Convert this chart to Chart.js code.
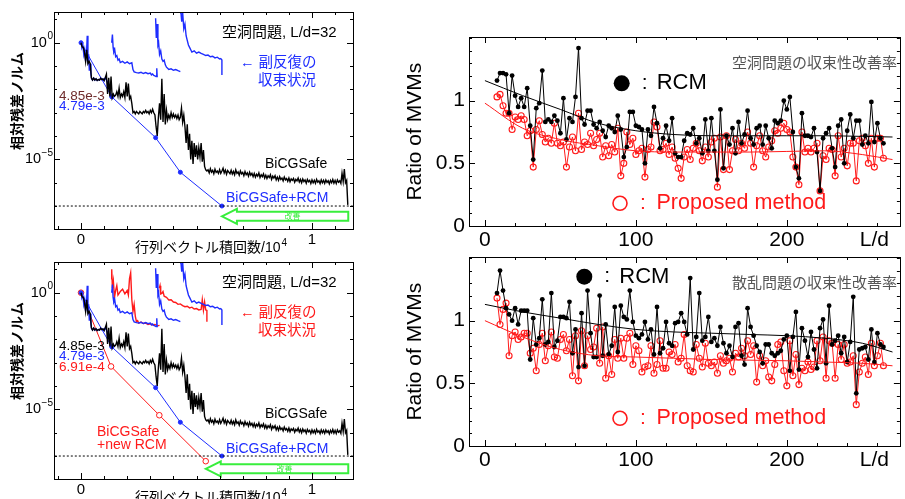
<!DOCTYPE html>
<html>
<head>
<meta charset="utf-8">
<script src="https://cdn.jsdelivr.net/npm/chart.js@4.4.1/dist/chart.umd.min.js"></script>
<style>
  html, body { margin: 0; padding: 0; background: #fff; }
  #wrap { position: relative; width: 905px; height: 499px; overflow: hidden; }
  #wrap canvas { position: absolute; left: 0; top: 0; }
</style>
</head>
<body>
<div id="wrap">
  <canvas id="histTop" width="905" height="499"></canvas>
  <canvas id="histBottom" width="905" height="499"></canvas>
  <canvas id="ratioTop" width="905" height="499"></canvas>
  <canvas id="ratioBottom" width="905" height="499"></canvas>
</div>
<script>
// ---------- convergence history (x: MVMs / 10^4, y: log10 of relative residual) ----------
const safeStep = 0.005;
const safeLog = [
  0, -0.18, -0.2, -0.4, -0.8, -0.3, -0.9, -0.8, -0.9, -1.5,
  -1.6, -1.52, -1.6, -1.55, -1.62, -1.58, -1.6, -1.52, -1.58, -1.55,
  -1.62, -1.5, -1.35, -2.2, -1.5, -2.3, -1.45, -2.35, -2.2, -2.3,
  -2.25, -2.1, -2.3, -1.95, -2.35, -2.2, -2.3, -2.1, -2.35, -1.7,
  -2.3, -1.75, -2.4, -2.3, -2.6, -3.0, -2.95, -3.05, -2.95, -3.0,
  -3.05, -2.95, -3.0, -3.05, -2.95, -3.0, -2.9, -3.0, -2.95, -3.05,
  -2.9, -3.0, -2.85, -3.0, -3.1, -3.6, -4.0, -3.2, -2.6, -3.3,
  -1.55, -3.4, -2.2, -3.5, -2.9, -3.3, -3.1, -3.25, -3.0, -3.2,
  -3.05, -3.2, -3.1, -3.25, -3.1, -3.3, -3.2, -2.8, -3.4, -3.1,
  -3.6, -4.3, -3.5, -4.6, -3.9, -5.0, -4.2, -5.2, -4.3, -4.9,
  -4.4, -5.0, -4.5, -4.9, -4.3, -5.1, -4.6, -5.3, -5.45, -5.5,
  -5.45, -5.58, -5.4, -5.55, -5.47, -5.62, -5.42, -5.56, -5.5, -5.6,
  -5.44, -5.6, -5.5, -5.38, -5.58, -5.46, -5.64, -5.48, -5.55, -5.62,
  -5.47, -5.63, -5.52, -5.66, -5.45, -5.6, -5.54, -5.68, -5.5, -5.62,
  -5.56, -5.7, -5.52, -5.66, -5.58, -5.72, -5.55, -5.68, -5.6, -5.74,
  -5.6, -5.76, -5.64, -5.72, -5.58, -5.78, -5.66, -5.74, -5.62, -5.8,
  -5.68, -5.82, -5.7, -5.78, -5.66, -5.86, -5.72, -5.8, -5.7, -5.88,
  -5.76, -5.9, -5.74, -5.86, -5.8, -5.92, -5.76, -5.88, -5.82, -5.94,
  -5.8, -5.96, -5.84, -5.9, -5.82, -5.98, -5.86, -5.92, -5.8, -5.97,
  -5.86, -6.0, -5.84, -5.95, -5.88, -6.02, -5.86, -5.96, -5.9, -6.04,
  -5.88, -6.0, -5.9, -6.03, -5.86, -5.98, -5.92, -6.04, -5.88, -6.0,
  -5.9, -6.03, -5.88, -5.99, -5.92, -6.05, -5.9, -6.0, -5.86, -6.02,
  -5.9, -6.04, -5.88, -5.98, -5.92, -6.03, -5.6, -5.95, -5.42, -6.0,
  -5.9, -6.95
];

// inner iterations of the restarted solver (each restart begins at 1)
const blueSub1X = [0, .004, .008, .012, .016, .02, .024, .027, .03, .033, .036, .04, .043, .046, .05, .055, .06, .065, .07, .075, .08, .085, .09, .095, .1, .105, .11, .115, .12, .125, .13, .133];
const blueSub1Log = [0, -0.2, -0.1, -0.5, -0.3, -0.8, -0.4, 0.3, -0.9, -0.5, -1.2, -0.9, -1.35, -1.55, -1.6, -1.52, -1.6, -1.55, -1.62, -1.58, -1.6, -1.52, -1.58, -1.55, -1.62, -1.5, -1.6, -1.7, -1.9, -2.1, -2.25, -2.32];
const blueSub2X = [.133, .136, .139, .142, .146, .15, .155, .16, .165, .17, .18, .19, .2, .21, .22, .225, .23, .24, .25, .26, .27, .28, .29, .3, .305, .31, .315, .32, .325, .328, .33];
const blueSub2Log = [0, 0.35, -0.2, -0.4, -0.3, -0.6, -0.55, -0.75, -0.7, -0.85, -0.8, -0.88, -0.82, -0.9, -0.86, -1.15, -1.25, -1.28, -1.3, -1.27, -1.32, -1.28, -1.33, -1.3, -1.38, -1.34, -1.4, -1.42, -1.45, -1.1, -1.48];
const blueSub3X = [.323, .326, .33, .333, .336, .34, .345, .35, .355, .36, .365, .37, .375, .38, .39, .4, .41, .42, .425, .43];
const blueSub3Log = [1.05, 0.2, 0.8, -0.1, 0.0, -0.5, -0.35, -0.7, -0.8, -0.75, -0.95, -1.05, -1.1, -1.15, -1.12, -1.18, -1.15, -1.2, -1.22, -1.24];
const blueSub4X = [.43, .433, .436, .44, .445, .45, .455, .46, .465, .47, .475, .48, .49, .5, .51, .52, .53, .54, .55, .56, .57, .58, .59, .6, .605, .61, .61];
const blueSub4Log = [1.3, 1.25, 0.9, 1.3, 0.6, 0.8, 0.3, 0.1, -0.1, -0.2, -0.3, -0.4, -0.35, -0.45, -0.4, -0.46, -0.5, -0.55, -0.53, -0.6, -0.58, -0.65, -0.62, -0.7, -0.68, -0.74, -1.38];
const redSub1X = [.13, .133, .136, .14, .145, .15, .155, .16, .17, .18, .19, .2, .205, .21, .215, .22, .225, .23, .235, .24, .245, .25, .26, .27, .28, .29, .3, .31, .32, .33, .34];
const redSub1Log = [0.6, 1.0, 0.2, 0.5, -0.2, 0.1, 0.3, -0.1, 0.05, 0.15, -0.05, 0.1, -0.1, 0.6, 0.85, -0.3, -0.8, -0.5, -1.0, -1.24, -1.2, -1.3, -1.26, -1.32, -1.3, -1.36, -1.33, -1.38, -1.36, -1.42, -1.4];
const redSub2X = [.339, .342, .345, .35, .355, .36, .37, .38, .39, .4, .41, .42, .43, .44, .45, .46, .47, .48, .49, .5, .51, .52, .525, .53, .535, .54, .545, .545];
const redSub2Log = [0.19, 0.3, -0.05, -0.03, 0.05, -0.15, -0.2, -0.31, -0.3, -0.4, -0.42, -0.5, -0.48, -0.55, -0.6, -0.58, -0.65, -0.62, -0.7, -0.68, -0.74, -0.72, -0.3, -0.75, -0.4, -0.74, -0.76, -1.24];

// residual at each restart
const rcmX = [0, 0.133, 0.323, 0.43, 0.61];
const rcmRes = [1, 4.79e-3, 8.5e-5, 2.8e-6, 1e-7];
const newRcmX = [0, 0.13, 0.339, 0.54];
const newRcmRes = [1, 6.91e-4, 5.6e-6, 6e-8];
const tolRes = 1e-7;

const histXTicks = [-0.1, 0, 0.1, 0.2, 0.3, 0.4, 0.5, 0.6, 0.7, 0.8, 0.9, 1, 1.1];
const histXMajor = [0, 1];
const histYTicks = [10, 1, 1e-1, 1e-2, 1e-3, 1e-4, 1e-5, 1e-6, 1e-7, 1e-8];
const histYMajor = [1, 1e-5];

// ---------- MVM ratio against L/d ----------
const ldValues = Array.from({ length: 129 }, (_, i) => 8 + 2 * i);
const rcmCavity = [
  1.16, 1.22, 1.22, 1.21, 0.90, 1.20, 1.04, 0.95, 1.02, 0.95,
  1.10, 0.80, 0.53, 0.94, 0.98, 1.24, 0.83, 0.85, 0.83, 0.88,
  0.84, 0.74, 1.02, 0.69, 0.86, 0.83, 1.03, 1.42, 0.86, 0.81,
  0.92, 0.92, 0.81, 0.78, 0.83, 0.76, 0.71, 0.80, 0.78, 0.75,
  0.88, 0.77, 0.55, 0.63, 0.91, 0.91, 0.80, 0.79, 0.77, 0.50,
  0.77, 0.72, 0.95, 0.82, 0.62, 0.70, 0.80, 0.68, 0.86, 0.58,
  0.55, 0.55, 0.68, 0.74, 0.73, 0.78, 0.66, 0.70, 0.58, 0.85,
  0.60, 0.86, 0.60, 0.37, 0.93, 0.46, 0.72, 0.65, 0.78, 0.58,
  0.83, 0.66, 0.73, 0.92, 0.70, 0.65, 0.78, 0.80, 0.65, 0.80,
  0.70, 0.62, 0.84, 0.82, 0.84, 1.00, 0.93, 1.03, 0.75, 0.47,
  0.38, 0.90, 0.72, 0.72, 0.71, 0.78, 0.59, 0.28, 0.70, 0.74,
  0.78, 0.62, 0.47, 0.80, 0.85, 0.50, 0.76, 0.89, 0.70, 0.84,
  0.84, 0.65, 0.72, 0.66, 0.99, 0.67, 0.82, 0.70, 0.66
];
const newCavity = [
  1.03, 1.05, 0.96, 0.90, 0.90, 0.77, 0.87, 0.85, 0.88, 0.85,
  0.72, 0.76, 0.47, 0.77, 0.84, 0.73, 0.67, 0.70, 0.66, 0.82,
  0.66, 0.64, 0.67, 0.47, 0.63, 0.71, 0.60, 0.90, 0.61, 0.67,
  0.65, 0.74, 0.64, 0.69, 0.74, 0.55, 0.64, 0.56, 0.65, 0.59,
  0.78, 0.40, 0.50, 0.75, 0.65, 0.70, 0.57, 0.60, 0.62, 0.39,
  0.61, 0.63, 0.83, 0.79, 0.60, 0.61, 0.66, 0.57, 0.63, 0.54,
  0.46, 0.38, 0.55, 0.61, 0.53, 0.62, 0.66, 0.60, 0.52, 0.63,
  0.55, 0.67, 0.70, 0.31, 0.71, 0.45, 0.72, 0.45, 0.60, 0.69,
  0.60, 0.66, 0.62, 0.75, 0.66, 0.47, 0.64, 0.72, 0.60, 0.55,
  0.63, 0.68, 0.76, 0.74, 0.78, 0.82, 0.77, 0.75, 0.55, 0.47,
  0.33, 0.75, 0.59, 0.62, 0.59, 0.62, 0.66, 0.28, 0.56, 0.53,
  0.62, 0.61, 0.40, 0.72, 0.55, 0.62, 0.48, 0.66, 0.66, 0.36,
  0.68, 0.70, 0.64, 0.50, 0.70, 0.47, 0.70, 0.70, 0.54
];
const rcmScatter = [
  1.22, 1.40, 1.24, 1.10, 1.05, 1.00, 1.10, 0.97, 1.08, 1.08,
  1.08, 0.69, 1.02, 0.81, 0.86, 1.17, 0.81, 0.83, 1.22, 0.79,
  0.84, 1.03, 1.03, 1.02, 1.15, 0.74, 0.93, 0.63, 1.06, 0.64,
  1.24, 0.90, 0.71, 0.71, 1.20, 0.72, 0.97, 0.73, 0.80, 1.11,
  0.75, 1.12, 1.03, 1.01, 1.24, 0.99, 0.88, 0.86, 0.89, 0.99,
  0.85, 0.93, 0.73, 1.11, 0.74, 0.78, 0.99, 0.82, 0.80, 0.98,
  0.99, 1.06, 0.99, 0.89, 1.34, 0.77, 0.87, 1.22, 0.84, 0.87,
  1.03, 0.83, 0.86, 0.80, 0.95, 0.82, 0.74, 0.80, 0.71, 0.95,
  0.98, 0.72, 0.65, 1.10, 0.95, 0.88, 0.80, 0.75, 0.66, 0.81,
  0.81, 0.74, 0.72, 0.74, 0.76, 0.85, 0.88, 0.60, 0.87, 1.07,
  0.61, 0.94, 0.84, 0.71, 0.91, 0.77, 0.62, 0.94, 1.01, 0.66,
  1.12, 0.81, 0.84, 0.88, 0.74, 0.87, 0.67, 0.83, 1.19, 0.42,
  0.77, 0.78, 0.79, 0.69, 0.93, 0.67, 0.90, 0.81, 0.79
];
const newScatter = [
  1.18, 0.97, 1.09, 1.14, 0.72, 0.88, 0.91, 0.85, 0.87, 0.90,
  0.90, 0.74, 0.78, 0.60, 0.81, 0.90, 0.68, 0.80, 0.91, 0.71,
  0.70, 0.85, 0.89, 0.76, 0.85, 0.56, 0.88, 0.52, 0.92, 0.64,
  0.88, 0.77, 0.79, 0.94, 0.66, 0.95, 0.54, 0.72, 0.57, 0.85,
  0.70, 0.86, 0.70, 0.86, 0.90, 0.65, 0.80, 0.76, 0.59, 0.63,
  0.64, 0.80, 0.58, 0.65, 0.84, 0.62, 0.62, 0.75, 0.73, 0.81,
  0.67, 0.70, 0.89, 0.64, 0.60, 0.59, 0.81, 0.70, 0.63, 0.82,
  0.66, 0.64, 0.67, 0.58, 0.72, 0.66, 0.68, 0.70, 0.59, 0.74,
  0.71, 0.78, 0.72, 0.84, 0.73, 0.80, 0.51, 0.72, 0.64, 0.68,
  0.55, 0.52, 0.65, 0.81, 0.83, 0.60, 0.48, 0.84, 0.56, 0.73,
  0.49, 0.62, 0.60, 0.67, 0.61, 0.63, 0.84, 0.68, 0.87, 0.54,
  0.84, 0.82, 0.54, 0.81, 0.69, 0.81, 0.66, 0.67, 0.72, 0.33,
  0.59, 0.66, 0.71, 0.57, 0.82, 0.64, 0.72, 0.82, 0.64
];
// fitted trends
const trendLd = [0, 25, 50, 75, 100, 125, 150, 175, 200, 225, 250, 270];
const trendRcmCavity = [1.16, 1.04, 0.93, 0.82, 0.76, 0.73, 0.72, 0.72, 0.72, 0.72, 0.715, 0.71];
const trendNewCavity = [0.98, 0.78, 0.69, 0.64, 0.60, 0.59, 0.59, 0.59, 0.595, 0.60, 0.57, 0.53];
const trendRcmScatter = [1.13, 1.07, 1.02, 0.97, 0.93, 0.91, 0.90, 0.89, 0.88, 0.86, 0.82, 0.75];
const trendNewScatter = [1.0, 0.87, 0.77, 0.72, 0.71, 0.70, 0.69, 0.685, 0.68, 0.67, 0.66, 0.64];

const ratioXTicks = [0, 20, 40, 60, 80, 100, 120, 140, 160, 180, 200, 220, 240, 260];
const ratioXMajor = [0, 100, 200];
const ratioYTicks = [0, 0.1, 0.2, 0.3, 0.4, 0.5, 0.6, 0.7, 0.8, 0.9, 1, 1.1, 1.2, 1.3, 1.4, 1.5];
const ratioYMajor = [0, 0.5, 1];

const LAT = '"Liberation Sans", "Noto Sans CJK JP", sans-serif';
const CJK = '"Noto Sans CJK JP", "Liberation Sans", sans-serif';
const BLUE = '#1e2dff';
const RED = '#ff1a1a';
const GREEN = '#38ee3c';

// frame, inward ticks, tick labels, notes
const inkPlugin = {
  id: 'ink',
  afterDraw(chart, _args, o) {
    const { ctx, chartArea: a, scales: { x, y } } = chart;
    ctx.save();
    ctx.strokeStyle = '#000';
    ctx.lineWidth = 1;
    if (o.arrow) drawArrow(ctx, x, y, o.arrow);
    ctx.strokeStyle = '#000';
    ctx.lineWidth = 1;
    ctx.strokeRect(Math.round(a.left) + 0.5, Math.round(a.top) + 0.5,
      Math.round(a.right - a.left), Math.round(a.bottom - a.top));
    ctx.beginPath();
    o.xTicks.forEach(v => {
      const px = Math.round(x.getPixelForValue(v)) + 0.5;
      const len = o.xMajor.includes(v) ? 6 : 3;
      ctx.moveTo(px, a.bottom); ctx.lineTo(px, a.bottom - len);
      ctx.moveTo(px, a.top); ctx.lineTo(px, a.top + len);
    });
    o.yTicks.forEach(v => {
      const py = Math.round(y.getPixelForValue(v)) + 0.5;
      const len = o.yMajor.includes(v) ? 6 : 3;
      ctx.moveTo(a.left, py); ctx.lineTo(a.left + len, py);
      ctx.moveTo(a.right, py); ctx.lineTo(a.right - len, py);
    });
    ctx.stroke();

    ctx.fillStyle = '#000';
    ctx.textBaseline = 'middle';
    ctx.font = o.xLabelFont;
    ctx.textAlign = 'center';
    o.xLabels.forEach(l => ctx.fillText(l.text, x.getPixelForValue(l.v), a.bottom + o.xLabelGap));
    o.yLabels.forEach(l => {
      const py = y.getPixelForValue(l.v);
      let right = a.left - o.yLabelGap;
      ctx.textAlign = 'right';
      if (l.sup) {
        ctx.font = o.supFont;
        ctx.fillText(l.sup, right, py - 6);
        right -= ctx.measureText(l.sup).width + 0.5;
      }
      ctx.font = o.yLabelFont;
      ctx.fillText(l.text, right, py);
    });

    (o.marks || []).forEach(m => {
      ctx.beginPath();
      ctx.arc(m.x, m.y, m.r, 0, Math.PI * 2);
      if (m.fill) { ctx.fillStyle = m.color; ctx.fill(); }
      else { ctx.strokeStyle = m.color; ctx.lineWidth = 1.6; ctx.stroke(); }
    });

    o.notes.forEach(n => {
      ctx.save();
      ctx.translate(n.x, n.y);
      if (n.rotate) ctx.rotate(n.rotate * Math.PI / 180);
      ctx.font = n.font;
      ctx.fillStyle = n.color || '#000';
      ctx.textAlign = n.align || 'left';
      ctx.textBaseline = 'middle';
      ctx.fillText(n.text, 0, 0);
      if (n.sup) {
        const w = ctx.measureText(n.text).width;
        ctx.font = n.supFont;
        ctx.textAlign = 'left';
        ctx.fillText(n.sup, (n.align === 'center' ? w / 2 : w) + 1, -5);
      }
      ctx.restore();
    });
    ctx.restore();
  }
};

// hollow arrow pointing left, from the end of the plain solver to the converged restart
function drawArrow(ctx, x, y, ar) {
  const tip = x.getPixelForValue(ar.tipX);
  const end = x.getPixelForValue(ar.endX);
  const cy = y.getPixelForValue(ar.atY);
  const hb = ar.body / 2, hh = ar.head / 2, neck = tip + ar.headLen;
  ctx.beginPath();
  ctx.moveTo(tip, cy);
  ctx.lineTo(neck, cy - hh);
  ctx.lineTo(neck, cy - hb);
  ctx.lineTo(end, cy - hb);
  ctx.lineTo(end, cy + hb);
  ctx.lineTo(neck, cy + hb);
  ctx.lineTo(neck, cy + hh);
  ctx.closePath();
  ctx.strokeStyle = ar.color;
  ctx.lineWidth = 2;
  ctx.stroke();
  ctx.fillStyle = ar.color;
  ctx.font = ar.font;
  ctx.textAlign = 'center';
  ctx.textBaseline = 'middle';
  ctx.fillText(ar.label, (neck + end) / 2, cy);
}

const pts = (xs, logs) => xs.map((v, i) => ({ x: v, y: Math.pow(10, logs[i]) }));
const resPts = (xs, res) => xs.map((v, i) => ({ x: v, y: res[i] }));
const linePts = (xs, ys) => xs.map((v, i) => ({ x: v, y: ys[i] }));

function curve(data, color, width) {
  return { data, borderColor: color, backgroundColor: color, borderWidth: width || 1,
    pointRadius: 0, showLine: true, tension: 0 };
}

function histChart(id, top, withNew) {
  const dy = top - 12;
  const subColor = withNew ? RED : BLUE;
  const safePts = safeLog.map((v, i) => ({ x: i * safeStep, y: Math.pow(10, v) }));
  const datasets = [
    curve([{ x: -0.2, y: tolRes }, { x: 1.3, y: tolRes }], '#000', 1),
    curve(safePts, '#000', 1.4),
    curve(pts(blueSub1X, blueSub1Log), BLUE, 1.4),
    curve(pts(blueSub2X, blueSub2Log), BLUE, 1.4),
    curve(pts(blueSub3X, blueSub3Log), BLUE, 1.4),
    curve(pts(blueSub4X, blueSub4Log), BLUE, 1.4),
    Object.assign(curve(resPts(rcmX, rcmRes), BLUE), { pointRadius: 2, pointBackgroundColor: BLUE })
  ];
  datasets[0].borderDash = [2, 2];
  if (withNew) {
    datasets.push(curve(pts(redSub1X, redSub1Log), RED, 1.4));
    datasets.push(curve(pts(redSub2X, redSub2Log), RED, 1.4));
    datasets.push(Object.assign(curve(resPts(newRcmX, newRcmRes), RED),
      { pointRadius: 2.8, pointBackgroundColor: '#fff', pointBorderColor: RED, pointBorderWidth: 1 }));
  }
  const finalX = withNew ? newRcmX[newRcmX.length - 1] : rcmX[rcmX.length - 1];
  const notes = [
    { text: '空洞問題, L/d=32', x: 222, y: 33 + dy, font: `15px ${LAT}` },
    { text: '← 副反復の', x: 240, y: 63 + dy, font: `14.5px ${LAT}`, color: subColor },
    { text: '収束状況', x: 258, y: 79 + dy, font: `14.5px ${CJK}`, color: subColor },
    { text: '4.85e-3', x: 59, y: 96 + dy, font: `13.5px ${LAT}`, color: withNew ? '#000' : '#6e2b2b' },
    { text: '4.79e-3', x: 59, y: 106 + dy, font: `13.5px ${LAT}`, color: BLUE },
    { text: 'BiCGSafe', x: 265, y: 164 + dy, font: `14px ${LAT}` },
    { text: 'BiCGSafe+RCM', x: 226, y: (withNew ? 199 : 198) + dy, font: `14px ${LAT}`, color: BLUE },
    { text: '相対残差ノルム', x: 17, y: 101 + dy, rotate: -90, align: 'center', font: `bold 14px ${CJK}` },
    { text: '行列ベクトル積回数/10', sup: '4', supFont: `10px ${LAT}`, x: 135, y: 248.5 + dy, font: `14px ${LAT}` }
  ];
  if (withNew) {
    notes.push({ text: '6.91e-4', x: 59, y: 117 + dy, font: `13.5px ${LAT}`, color: RED });
    notes.push({ text: 'BiCGSafe', x: 97, y: 182 + dy, font: `14px ${LAT}`, color: RED });
    notes.push({ text: '+new RCM', x: 97, y: 195 + dy, font: `14px ${LAT}`, color: RED });
  }
  return new Chart(document.getElementById(id), {
    type: 'scatter',
    data: { datasets },
    options: {
      responsive: false,
      animation: false,
      events: [],
      layout: { padding: { left: 54, right: 905 - 353, top: top, bottom: 499 - (top + 217) } },
      plugins: {
        legend: { display: false },
        tooltip: { enabled: false },
        ink: {
          xTicks: histXTicks, xMajor: histXMajor, yTicks: histYTicks, yMajor: histYMajor,
          xLabelFont: `15px ${LAT}`, xLabelGap: 11,
          xLabels: [{ v: 0, text: '0' }, { v: 1, text: '1' }],
          yLabelFont: `14.5px ${LAT}`, supFont: `10px ${LAT}`, yLabelGap: 1,
          yLabels: [{ v: 1, text: '10', sup: '0' }, { v: 1e-5, text: '10', sup: '−5' }],
          arrow: { tipX: finalX, endX: 1.157, atY: withNew ? Math.pow(10, -7.55) : Math.pow(10, -7.44),
            body: 9, head: 15, headLen: 15, color: GREEN, label: '改善', font: `8px ${CJK}` },
          notes
        }
      },
      scales: {
        x: { type: 'linear', display: false, bounds: 'data', min: -0.1169, max: 1.1775 },
        y: { type: 'logarithmic', display: false, bounds: 'data', min: Math.pow(10, -7.985), max: Math.pow(10, 1.316) }
      }
    },
    plugins: [inkPlugin]
  });
}

function ratioChart(id, top, rcm, prop, tRcm, tProp, title, yTitleY, legend) {
  const datasets = [
    Object.assign(curve(linePts(trendLd, tRcm), '#000', 1), { cubicInterpolationMode: 'monotone' }),
    Object.assign(curve(linePts(trendLd, tProp), RED, 1), { cubicInterpolationMode: 'monotone' }),
    Object.assign(curve(linePts(ldValues, rcm), '#000', 1),
      { pointRadius: 2.4, pointBackgroundColor: '#000', pointBorderWidth: 0 }),
    Object.assign(curve(linePts(ldValues, prop), RED, 1),
      { pointRadius: 3, pointBackgroundColor: 'rgba(255,255,255,0)', pointBorderColor: RED, pointBorderWidth: 1.1 })
  ];
  const bottom = top + 189;
  return new Chart(document.getElementById(id), {
    type: 'scatter',
    data: { datasets },
    options: {
      responsive: false,
      animation: false,
      events: [],
      layout: { padding: { left: 469, right: 905 - 902, top: top, bottom: 499 - bottom } },
      plugins: {
        legend: { display: false },
        tooltip: { enabled: false },
        ink: {
          xTicks: ratioXTicks, xMajor: ratioXMajor, yTicks: ratioYTicks, yMajor: ratioYMajor,
          xLabelFont: `21px ${LAT}`, xLabelGap: 14.5,
          xLabels: [{ v: 0, text: '0' }, { v: 100, text: '100' }, { v: 200, text: '200' }, { v: 258, text: 'L/d' }],
          yLabelFont: `21px ${LAT}`, supFont: `12px ${LAT}`, yLabelGap: 4,
          yLabels: [{ v: 0, text: '0' }, { v: 0.5, text: '0.5' }, { v: 1, text: '1' }],
          marks: [
            { x: legend.dotX, y: legend.dotY, r: 8, color: '#000', fill: true },
            { x: 620, y: legend.ringY, r: 7, color: RED, fill: false }
          ],
          notes: [
            { text: 'Ratio of MVMs', x: 415, y: yTitleY, rotate: -90, align: 'center', font: `21px ${LAT}` },
            { text: title, x: 732, y: top + 25, font: `15px ${CJK}`, color: '#555' },
            { text: ':', x: legend.dotX + 20, y: legend.dotY, font: `21px ${LAT}` },
            { text: 'RCM', x: legend.dotX + 35, y: legend.dotY, font: `22px ${LAT}` },
            { text: ':', x: 640, y: legend.ringY, font: `21px ${LAT}`, color: RED },
            { text: 'Proposed method', x: 656.5, y: legend.ringY, font: `21.5px ${LAT}`, color: RED }
          ]
        }
      },
      scales: {
        x: { type: 'linear', display: false, bounds: 'data', min: -10.55, max: 274.9 },
        y: { type: 'linear', display: false, bounds: 'data', min: 0, max: 1.508 }
      }
    },
    plugins: [inkPlugin]
  });
}

histChart('histTop', 12, false);
histChart('histBottom', 262, true);
ratioChart('ratioTop', 37, rcmCavity, newCavity, trendRcmCavity, trendNewCavity,
  '空洞問題の収束性改善率', 131.7, { dotX: 621.7, dotY: 83.3, ringY: 203.3 });
ratioChart('ratioBottom', 257, rcmScatter, newScatter, trendRcmScatter, trendNewScatter,
  '散乱問題の収束性改善率', 351.7, { dotX: 584.3, dotY: 276.7, ringY: 418.3 });
</script>
</body>
</html>
